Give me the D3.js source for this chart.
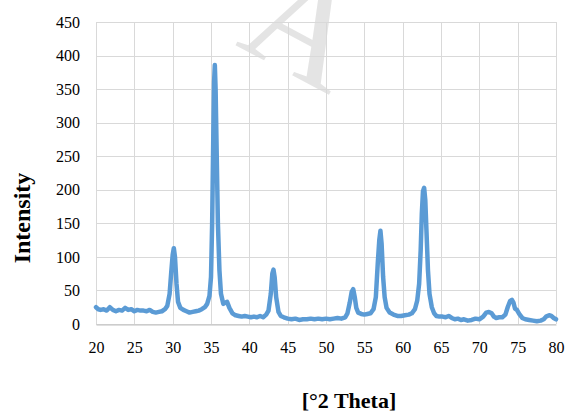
<!DOCTYPE html>
<html>
<head>
<meta charset="utf-8">
<script src="https://cdn.jsdelivr.net/npm/d3@7"></script>
<style>
  body { margin: 0; background: #fff; }
  text { font-family: "Liberation Serif", "Times New Roman", serif; }
</style>
</head>
<body>
<svg id="chart"></svg>
<script>
// XRD pattern
var twoTheta = [20, 20.3, 20.6, 21, 21.4, 21.8, 22.2, 22.6, 23, 23.4, 23.8, 24.2, 24.6, 25, 25.4, 25.8, 26.2, 26.6, 27, 27.4, 27.8, 28.2, 28.6, 29, 29.3, 29.6, 29.8, 30, 30.15, 30.3, 30.5, 30.7, 31, 31.4, 31.8, 32.2, 32.6, 33, 33.4, 33.8, 34.2, 34.5, 34.8, 35, 35.15, 35.3, 35.4, 35.5, 35.6, 35.75, 35.9, 36.1, 36.3, 36.6, 36.9, 37.1, 37.4, 37.8, 38.2, 38.6, 39, 39.4, 39.8, 40.2, 40.6, 41, 41.4, 41.8, 42.2, 42.5, 42.8, 43, 43.15, 43.3, 43.5, 43.8, 44.1, 44.5, 45, 45.5, 46, 46.5, 47, 47.5, 48, 48.5, 49, 49.5, 50, 50.5, 51, 51.5, 52, 52.5, 52.8, 53.1, 53.35, 53.55, 53.75, 53.95, 54.2, 54.6, 55, 55.4, 55.8, 56.2, 56.5, 56.75, 56.95, 57.1, 57.25, 57.45, 57.65, 57.9, 58.3, 58.8, 59.3, 59.8, 60.3, 60.8, 61.2, 61.6, 61.9, 62.15, 62.35, 62.5, 62.65, 62.8, 62.95, 63.1, 63.3, 63.5, 63.8, 64.1, 64.4, 64.8, 65.2, 65.6, 66, 66.4, 66.8, 67.2, 67.6, 68, 68.5, 69, 69.5, 70, 70.5, 70.9, 71.25, 71.6, 71.9, 72.2, 72.6, 73, 73.4, 73.7, 74, 74.25, 74.45, 74.65, 74.9, 75.2, 75.6, 76, 76.5, 77, 77.5, 78, 78.4, 78.7, 79.1, 79.4, 79.7, 80];
var intensity = [25, 22, 21, 22, 20, 25, 21, 19, 21, 20, 24, 21, 22, 19, 21, 20, 20, 19, 21, 18, 17, 18, 19, 22, 27, 45, 75, 103, 113, 100, 60, 33, 24, 21, 19, 17, 18, 19, 20, 22, 25, 30, 42, 70, 150, 280, 360, 386, 350, 250, 150, 80, 45, 30, 32, 33, 24, 16, 13, 12, 11, 12, 11, 10, 11, 10, 12, 10, 14, 20, 45, 75, 81, 70, 40, 18, 12, 10, 8, 7, 8, 6, 7, 7, 8, 7, 8, 7, 8, 7, 8, 9, 8, 10, 16, 32, 48, 52, 40, 24, 17, 15, 14, 15, 16, 22, 40, 90, 125, 139, 120, 70, 40, 24, 17, 14, 12, 12, 13, 14, 16, 22, 35, 60, 110, 165, 198, 203, 185, 140, 80, 45, 25, 16, 12, 11, 11, 10, 12, 9, 7, 8, 6, 7, 5, 6, 8, 7, 11, 17, 18, 16, 11, 9, 10, 10, 14, 25, 34, 36, 32, 23, 21, 15, 9, 7, 6, 5, 4, 5, 7, 11, 13, 12, 9, 7];

var xTicks = [20, 25, 30, 35, 40, 45, 50, 55, 60, 65, 70, 75, 80];
var yTicks = [0, 50, 100, 150, 200, 250, 300, 350, 400, 450];

var width = 568;
var height = 412;
var plotL = 96, plotR = 556, plotT = 22, plotB = 324;

var svg = d3.select("#chart").attr("width", width).attr("height", height);

var x = d3.scaleLinear().domain([20, 80]).range([plotL, plotR]);
var y = d3.scaleLinear().domain([0, 450]).range([plotB, plotT]);

// faint watermark behind the grid
svg.append("text")
    .attr("transform", "translate(282,70) rotate(28)")
    .attr("text-anchor", "middle")
    .attr("font-size", 150)
    .attr("fill", "#e4e4e4")
    .text("A");

var grid = svg.append("g");
grid.selectAll("line.h")
    .data(yTicks)
    .enter().append("line")
    .attr("class", "h")
    .attr("x1", plotL).attr("x2", plotR)
    .attr("y1", function(d) { return Math.round(y(d)) + 0.5; })
    .attr("y2", function(d) { return Math.round(y(d)) + 0.5; })
    .attr("stroke", "#d9d9d9");
grid.selectAll("line.v")
    .data(xTicks)
    .enter().append("line")
    .attr("class", "v")
    .attr("y1", plotT).attr("y2", plotB)
    .attr("x1", function(d) { return Math.round(x(d)) + 0.5; })
    .attr("x2", function(d) { return Math.round(x(d)) + 0.5; })
    .attr("stroke", "#d9d9d9");

var xAxis = svg.append("g")
    .attr("transform", "translate(0," + (Math.round(y(0)) + 0.5) + ")")
    .call(d3.axisBottom(x).tickValues(xTicks).tickSize(0).tickPadding(17));
xAxis.select(".domain").attr("stroke", "#bfbfbf");
xAxis.selectAll("text").attr("font-size", 16).attr("fill", "#000")
    .attr("font-family", "Liberation Serif");

var yAxis = svg.append("g")
    .attr("transform", "translate(" + plotL + ",0)")
    .call(d3.axisLeft(y).tickValues(yTicks).tickSize(0).tickPadding(16));
yAxis.select(".domain").remove();
yAxis.selectAll("text").attr("font-size", 16).attr("fill", "#000")
    .attr("font-family", "Liberation Serif");

var pts = twoTheta.map(function(t, i) { return [t, intensity[i]]; });
var line = d3.line()
    .x(function(d) { return x(d[0]); })
    .y(function(d) { return y(d[1]); });

svg.append("path")
    .datum(pts)
    .attr("d", line)
    .attr("fill", "none")
    .attr("stroke", "#5b9bd5")
    .attr("stroke-width", 4.5)
    .attr("stroke-linejoin", "round")
    .attr("stroke-linecap", "round");

svg.append("text")
    .attr("transform", "translate(30,218) rotate(-90)")
    .attr("text-anchor", "middle")
    .attr("font-size", 24)
    .attr("font-weight", "bold")
    .text("Intensity");

svg.append("text")
    .attr("x", 349)
    .attr("y", 408)
    .attr("text-anchor", "middle")
    .attr("font-size", 22)
    .attr("font-weight", "bold")
    .text("[°2 Theta]");
</script>
</body>
</html>
